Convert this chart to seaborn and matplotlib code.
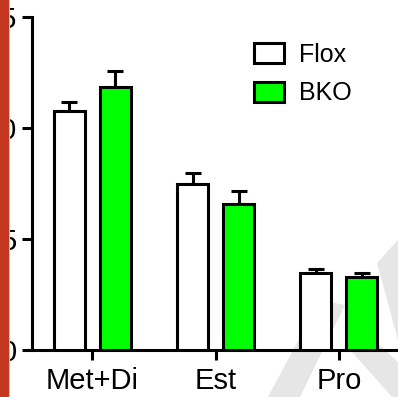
import matplotlib
matplotlib.use("Agg")
import matplotlib.pyplot as plt
from matplotlib.patches import Patch, Rectangle, Polygon
import seaborn as sns
import pandas as pd

# Group means and SEM per treatment
categories = ["Met+Di", "Est", "Pro"]
genotypes = ["Flox", "BKO"]
flox_mean = [10.77, 7.46, 3.48]
bko_mean = [11.83, 6.58, 3.29]
flox_sem = [0.40, 0.50, 0.18]
bko_sem = [0.72, 0.60, 0.19]
yticks = [0, 5, 10, 15]

df = pd.DataFrame({
    "treatment": categories * 2,
    "genotype": ["Flox"] * 3 + ["BKO"] * 3,
    "value": flox_mean + bko_mean,
    "sem": flox_sem + bko_sem,
})

sns.set_theme(style="ticks")
plt.rcParams["font.family"] = ["Liberation Sans", "DejaVu Sans"]
plt.rcParams["text.color"] = "black"

W, H = 398, 397
fig = plt.figure(figsize=(W / 100, H / 100), dpi=100)
ax = fig.add_axes([32 / W, 1 - 350 / H, 1 - 32 / W, (350 - 17) / H])
ax.set_facecolor("none")

palette = {"Flox": "white", "BKO": "#00ff00"}
sns.barplot(data=df, x="treatment", y="value", hue="genotype",
            hue_order=genotypes, order=categories, palette=palette,
            width=0.748, gap=0.326, errorbar=None, edgecolor="black",
            linewidth=2.2, saturation=1, legend=False, ax=ax, zorder=3)

# one-sided SEM whiskers on top of each bar
for bars, g in zip(ax.containers, genotypes):
    sub = df[df.genotype == g].set_index("treatment").loc[categories]
    xs = [b.get_x() + b.get_width() / 2 for b in bars]
    ax.errorbar(xs, sub["value"], yerr=[[0] * 3, sub["sem"]], fmt="none",
                ecolor="black", elinewidth=2.2, capsize=6, capthick=2.2,
                zorder=2)

ax.set_xlim(-0.49, 2.48)
ax.set_ylim(0, 15)
ax.set_yticks(yticks)
ax.set_xlabel("")
ax.set_ylabel("")
sns.despine(ax=ax)
for s in ("left", "bottom"):
    ax.spines[s].set_linewidth(2.2)
    ax.spines[s].set_color("black")
ax.tick_params(axis="both", width=2.2, length=7.5, labelsize=21,
               color="black", labelcolor="black")
ax.tick_params(axis="y", pad=3.5)
ax.tick_params(axis="x", pad=5)

handles = [Patch(facecolor=palette[g], edgecolor="black", linewidth=2.2, label=g)
           for g in genotypes]
ax.legend(handles=handles, loc="upper left", frameon=False, fontsize=18,
          labelcolor="black",
          bbox_to_anchor=(254 / W, 1 - 42.5 / H), bbox_transform=fig.transFigure,
          borderpad=0, borderaxespad=0, handlelength=1.2, handleheight=0.88,
          handletextpad=0.6, labelspacing=0.6)

# faint background watermark strokes
def fig_poly(pts):
    return Polygon([(x / W, 1 - y / H) for x, y in pts], closed=True,
                   transform=fig.transFigure, facecolor="#e6e6e6",
                   edgecolor="none", zorder=-5)

fig.patches.append(fig_poly([(268, 397), (300, 397), (345, 305), (320, 300)]))
fig.patches.append(fig_poly([(352, 352), (372, 338), (398, 362), (398, 397), (392, 397)]))
fig.patches.append(fig_poly([(377, 263), (398, 240), (398, 340)]))

# red side strip at the left edge
fig.patches.append(Rectangle((0, 0), 9 / W, 1, transform=fig.transFigure,
                             facecolor="#c4381f", edgecolor="none", zorder=10))
fig.patches.append(Rectangle((9 / W, 0), 1.2 / W, 1, transform=fig.transFigure,
                             facecolor="#f2b4a8", edgecolor="none", zorder=10))

fig.savefig("out.png", dpi=100)
